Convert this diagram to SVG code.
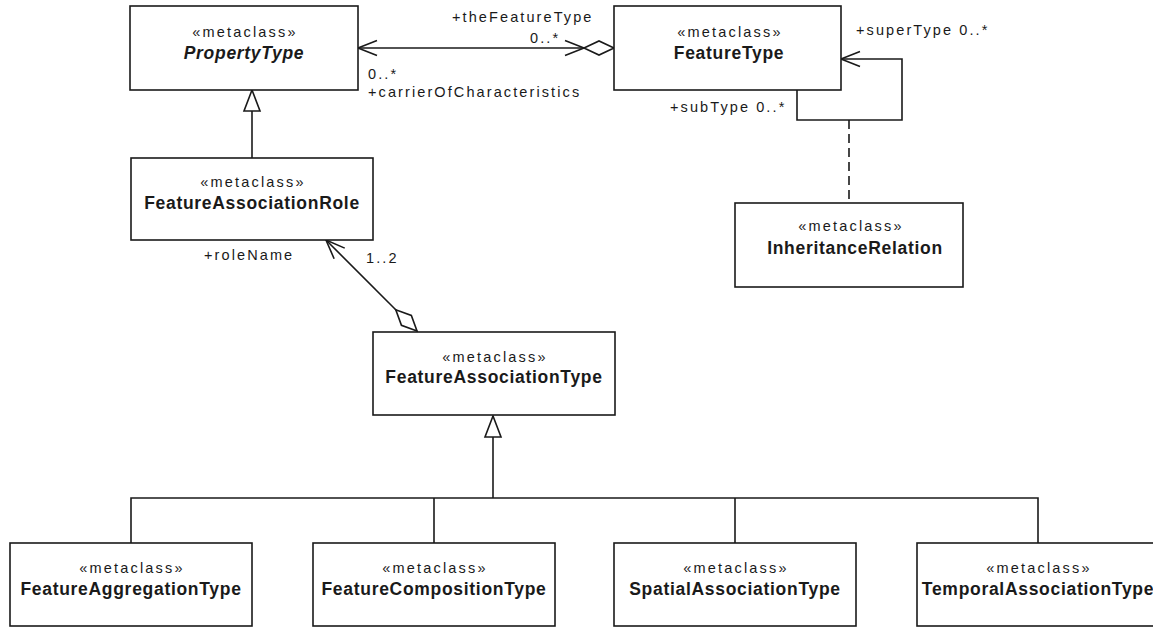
<svg xmlns="http://www.w3.org/2000/svg" width="1153" height="627" viewBox="0 0 1153 627">
<style>
.box{fill:#fff;stroke:#1a1a1a;stroke-width:1.6}
.st{font-family:"Liberation Sans",Arial,sans-serif;font-size:14.5px;letter-spacing:2.2px;fill:#1a1a1a;text-anchor:middle}
.nm{font-family:"Liberation Sans",Arial,sans-serif;font-size:17.5px;font-weight:bold;letter-spacing:0.7px;fill:#1a1a1a;text-anchor:middle}
.lb{font-family:"Liberation Sans",Arial,sans-serif;font-size:14.5px;letter-spacing:2.1px;fill:#1a1a1a}
.ln{fill:none;stroke:#1a1a1a;stroke-width:1.6}
.dash{stroke-dasharray:9 5}
</style>
<defs>
<marker id="open" markerUnits="userSpaceOnUse" orient="auto" refX="0" refY="0" markerWidth="30" markerHeight="30" overflow="visible">
<path d="M-19,-7.5 L0,0 L-19,7.5" fill="none" stroke="#1a1a1a" stroke-width="1.6"/>
</marker>
<marker id="diamond" markerUnits="userSpaceOnUse" orient="auto" refX="0" refY="0" markerWidth="40" markerHeight="40" overflow="visible">
<path d="M0,0 L15,-7 L30,0 L15,7 Z" fill="#fff" stroke="#1a1a1a" stroke-width="1.6"/>
</marker>
<marker id="tri" markerUnits="userSpaceOnUse" orient="auto" refX="0" refY="0" markerWidth="40" markerHeight="40" overflow="visible">
<path d="M0,0 L-21,-8 L-21,8 Z" fill="#fff" stroke="#1a1a1a" stroke-width="1.6"/>
</marker>
</defs>
<rect width="1153" height="627" fill="#fff"/>
<g id="connectors">
<path class="ln" d="M614,48 L358,48" marker-start="url(#diamond)" marker-end="url(#open)"/>
<path class="ln" d="M565,40.5 L584,48 L565,55.5"/>
<path class="ln" d="M417,331 L326,240" marker-start="url(#diamond)" marker-end="url(#open)"/>
<path class="ln" d="M252,158 L252,90" marker-end="url(#tri)"/>
<path class="ln" d="M797,90 V120 H902 V59 H841" marker-end="url(#open)"/>
<path class="ln dash" d="M849,120 V203"/>
<path class="ln" d="M131,543 V498 H1038 V543 M434,498 V543 M735,498 V543"/>
<path class="ln" d="M493,498 V416" marker-end="url(#tri)"/>
<text class="lb" x="452" y="22">+theFeatureType</text>
<text class="lb" x="530" y="43">0..*</text>
<text class="lb" x="368" y="79">0..*</text>
<text class="lb" x="368" y="97">+carrierOfCharacteristics</text>
<text class="lb" x="856" y="35">+superType 0..*</text>
<text class="lb" x="670" y="112">+subType 0..*</text>
<text class="lb" x="204" y="260">+roleName</text>
<text class="lb" x="366" y="263">1..2</text>
</g>
<g id="PropertyType">
<rect class="box" x="130" y="6" width="228" height="84"/>
<text class="st" x="245" y="37">«metaclass»</text>
<text class="nm" x="244" y="59" font-style="italic">PropertyType</text>
</g>
<g id="FeatureType">
<rect class="box" x="614" y="6" width="227" height="84"/>
<text class="st" x="730" y="37">«metaclass»</text>
<text class="nm" x="729" y="59">FeatureType</text>
</g>
<g id="FeatureAssociationRole">
<rect class="box" x="131" y="158" width="242" height="82"/>
<text class="st" x="253" y="187">«metaclass»</text>
<text class="nm" x="252" y="209">FeatureAssociationRole</text>
</g>
<g id="InheritanceRelation">
<rect class="box" x="735" y="203" width="228" height="84"/>
<text class="st" x="851" y="231">«metaclass»</text>
<text class="nm" x="855" y="254">InheritanceRelation</text>
</g>
<g id="FeatureAssociationType">
<rect class="box" x="373" y="332" width="242" height="83"/>
<text class="st" x="495" y="362">«metaclass»</text>
<text class="nm" x="494" y="383">FeatureAssociationType</text>
</g>
<g id="FeatureAggregationType">
<rect class="box" x="10" y="543" width="242" height="83"/>
<text class="st" x="132" y="573">«metaclass»</text>
<text class="nm" x="131" y="595">FeatureAggregationType</text>
</g>
<g id="FeatureCompositionType">
<rect class="box" x="313" y="543" width="242" height="83"/>
<text class="st" x="435" y="573">«metaclass»</text>
<text class="nm" x="434" y="595">FeatureCompositionType</text>
</g>
<g id="SpatialAssociationType">
<rect class="box" x="614" y="543" width="242" height="83"/>
<text class="st" x="736" y="573">«metaclass»</text>
<text class="nm" x="735" y="595">SpatialAssociationType</text>
</g>
<g id="TemporalAssociationType">
<rect class="box" x="917" y="543" width="242" height="83"/>
<text class="st" x="1039" y="573">«metaclass»</text>
<text class="nm" x="1038" y="595">TemporalAssociationType</text>
</g>
</svg>
